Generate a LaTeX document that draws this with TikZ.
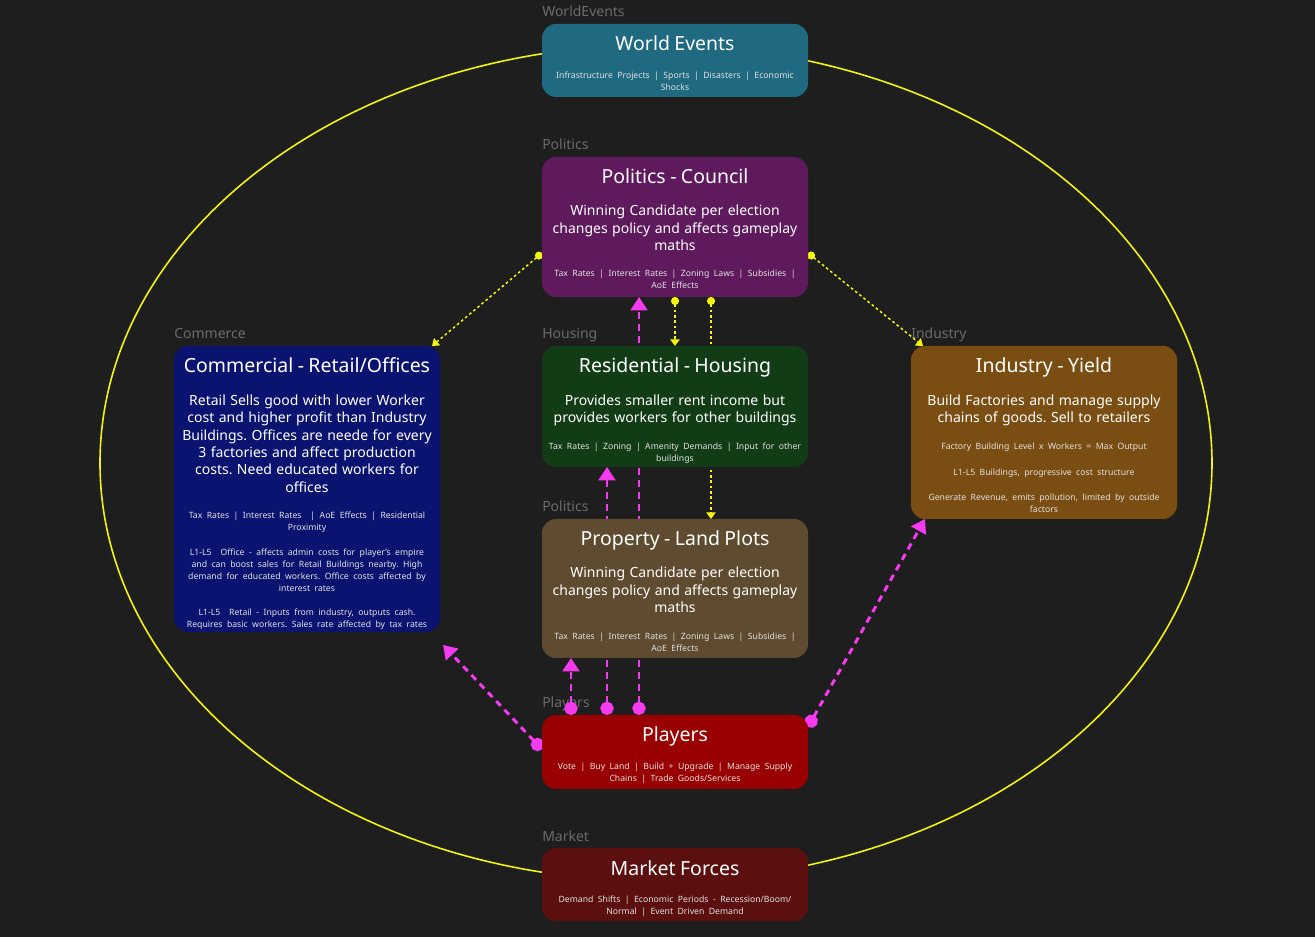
\documentclass[tikz,border=0pt]{standalone}
\usepackage{fontspec}
\setmainfont{Noto Sans}
\frenchspacing
\usetikzlibrary{arrows.meta,positioning,backgrounds,calc}
\definecolor{canvas}{HTML}{1E1E1E}
\definecolor{tagc}{HTML}{6B6B6B}
\definecolor{ringy}{HTML}{F2F20A}
\definecolor{votey}{HTML}{F5F50F}
\definecolor{playm}{HTML}{F53AF0}
\definecolor{worldc}{HTML}{1F6A80}
\definecolor{councilc}{HTML}{5E1A5C}
\definecolor{commercec}{HTML}{0A1470}
\definecolor{housingc}{HTML}{123C16}
\definecolor{industryc}{HTML}{7A4E12}
\definecolor{propertyc}{HTML}{5E4B30}
\definecolor{playersc}{HTML}{990000}
\definecolor{marketc}{HTML}{5C0F0F}
\newcommand{\ttl}{\fontsize{14.6}{17}\selectfont}
\newcommand{\bdy}{\fontsize{10.5}{13}\selectfont}
\newcommand{\sml}{\fontsize{6.5}{8.9}\selectfont\color{white!88!black}}
\tikzset{
  zone/.style={
    rectangle, rounded corners=10.5pt, fill=#1, text=white,
    text width=199.5pt, text height=20.25pt, inner sep=0pt, outer sep=0pt,
    align=center
  },
  tag/.style={text=tagc, font=\fontsize{10.5}{12}\selectfont, inner sep=0pt},
  pollink/.style={
    draw=votey, line width=1.1pt, dash pattern=on 2pt off 2pt,
    {Circle[length=6pt]}-{Triangle[length=5pt,width=7pt]}
  },
  playlink/.style={
    draw=playm, line width=2.2pt, dash pattern=on 5pt off 4pt,
    {Circle[length=10pt]}-{Triangle[length=10pt,width=12.5pt]}
  },
}
\begin{document}
\begin{tikzpicture}[x=0.75pt,y=-0.75pt]
    \useasboundingbox (0,0) rectangle (1315,937);
    % central column
    \node[zone=worldc, text depth=34.5pt] (world) at (675,60.5)
      {{\ttl World Events\par}\vskip11.9pt
       {\sml Infrastructure Projects | Sports | Disasters | Economic\\Shocks\par}};
    \node[zone=councilc, text depth=84.75pt, below=45pt of world] (council)
      {{\ttl Politics - Council\par}\vskip11pt
       {\bdy Winning Candidate per election\\changes policy and affects gameplay\\maths\par}\vskip10.8pt
       {\sml Tax Rates | Interest Rates | Zoning Laws | Subsidies |\\AoE Effects\par}};
    \node[zone=housingc, text depth=70.5pt, below=36.75pt of council] (housing)
      {{\ttl Residential - Housing\par}\vskip11.5pt
       {\bdy Provides smaller rent income but\\provides workers for other buildings\par}\vskip11.2pt
       {\sml Tax Rates | Zoning | Amenity Demands | Input for other\\buildings\par}};
    \node[zone=propertyc, text depth=84pt, below=39pt of housing] (property)
      {{\ttl Property - Land Plots\par}\vskip11pt
       {\bdy Winning Candidate per election\\changes policy and affects gameplay\\maths\par}\vskip11pt
       {\sml Tax Rates | Interest Rates | Zoning Laws | Subsidies |\\AoE Effects\par}};
    \node[zone=playersc, text depth=35.25pt, below=42.75pt of property] (players)
      {{\ttl Players\par}\vskip11.9pt
       {\sml Vote | Buy Land | Build + Upgrade | Manage Supply\\Chains | Trade Goods/Services\par}};
    \node[zone=marketc, text depth=34.5pt, below=44.25pt of players] (market)
      {{\ttl Market Forces\par}\vskip11.9pt
       {\sml Demand Shifts | Economic Periods - Recession/Boom/\\Normal | Event Driven Demand\par}};
    % side boxes
    \node[zone=commercec, text depth=194.25pt, left=76.5pt of housing.north west, anchor=north east] (commerce)
      {{\ttl Commercial - Retail/Offices\par}\vskip11.5pt
       {\bdy Retail Sells good with lower Worker\\cost and higher profit than Industry\\Buildings. Offices are neede for every\\3 factories and affect production\\costs. Need educated workers for\\offices\par}\vskip11pt
       {\sml Tax Rates | Interest Rates \ | AoE Effects | Residential\\Proximity\par}\vskip9.8pt
       {\sml L1-L5\ \ Office - affects admin costs for player's empire\\and can boost sales for Retail Buildings nearby. High\\demand for educated workers. Office costs affected by\\interest rates\par}\vskip9.2pt
       {\sml L1-L5\ \ Retail - Inputs from industry, outputs cash.\\Requires basic workers. Sales rate affected by tax rates\par}};
    \node[zone=industryc, text depth=109.5pt, right=77.25pt of housing.north east, anchor=north west] (industry)
      {{\ttl Industry - Yield\par}\vskip11.5pt
       {\bdy Build Factories and manage supply\\chains of goods. Sell to retailers\par}\vskip11.2pt
       {\sml Factory Building Level x Workers = Max Output\par}\vskip10.2pt
       {\sml L1-L5 Buildings, progressive cost structure\par}\vskip10pt
       {\sml Generate Revenue, emits pollution, limited by outside\\factors\par}};
    \begin{scope}[on background layer]
      \fill[canvas] (0,0) rectangle (1315,937);
      \draw[ringy, line width=1.2pt] (656,463) ellipse [x radius=556, y radius=418];
      % group tags
      \node[tag, above right=5.25pt and 0pt of world.north west, anchor=base west] (worldtag) {WorldEvents};
      \node[tag, above right=5.25pt and 0pt of council.north west, anchor=base west] (counciltag) {Politics};
      \node[tag, above right=5.25pt and 0pt of commerce.north west, anchor=base west] (commercetag) {Commerce};
      \node[tag, above right=5.25pt and 0pt of housing.north west, anchor=base west] (housingtag) {Housing};
      \node[tag, above right=5.25pt and 0pt of industry.north west, anchor=base west] (industrytag) {Industry};
      \node[tag, above right=5.25pt and 0pt of property.north west, anchor=base west] (propertytag) {Politics};
      \node[tag, above right=5.25pt and 0pt of players.north west, anchor=base west] (playerstag) {Players};
      \node[tag, above right=5.25pt and 0pt of market.north west, anchor=base west] (markettag) {Market};
      % policy links
      \draw[pollink] ([yshift=-19.5pt]council.west) -- ([xshift=-6pt]commerce.north east);
      \draw[pollink] ([yshift=-19.5pt]council.east) -- ([xshift=9pt]industry.north west);
      \draw[pollink] (council.south) -- (housing.north);
      \draw[pollink] ([xshift=27pt]council.south) -- ([xshift=27pt]property.north);
      % player actions
      \draw[playlink] ([yshift=2pt]players.west) -- ([xshift=2.25pt,yshift=-9.75pt]commerce.south east);
      \draw[playlink] ([xshift=-78pt]players.north) -- ([xshift=-78pt]property.south);
      \draw[playlink] ([xshift=-51pt]players.north) -- ([xshift=-51pt]housing.south);
      \draw[playlink] ([xshift=-27pt]players.north) -- ([xshift=-27pt]council.south);
      \draw[playlink] ([yshift=-9pt]players.north east) -- ([xshift=10.5pt]industry.south west);
    \end{scope}
\end{tikzpicture}
\end{document}
